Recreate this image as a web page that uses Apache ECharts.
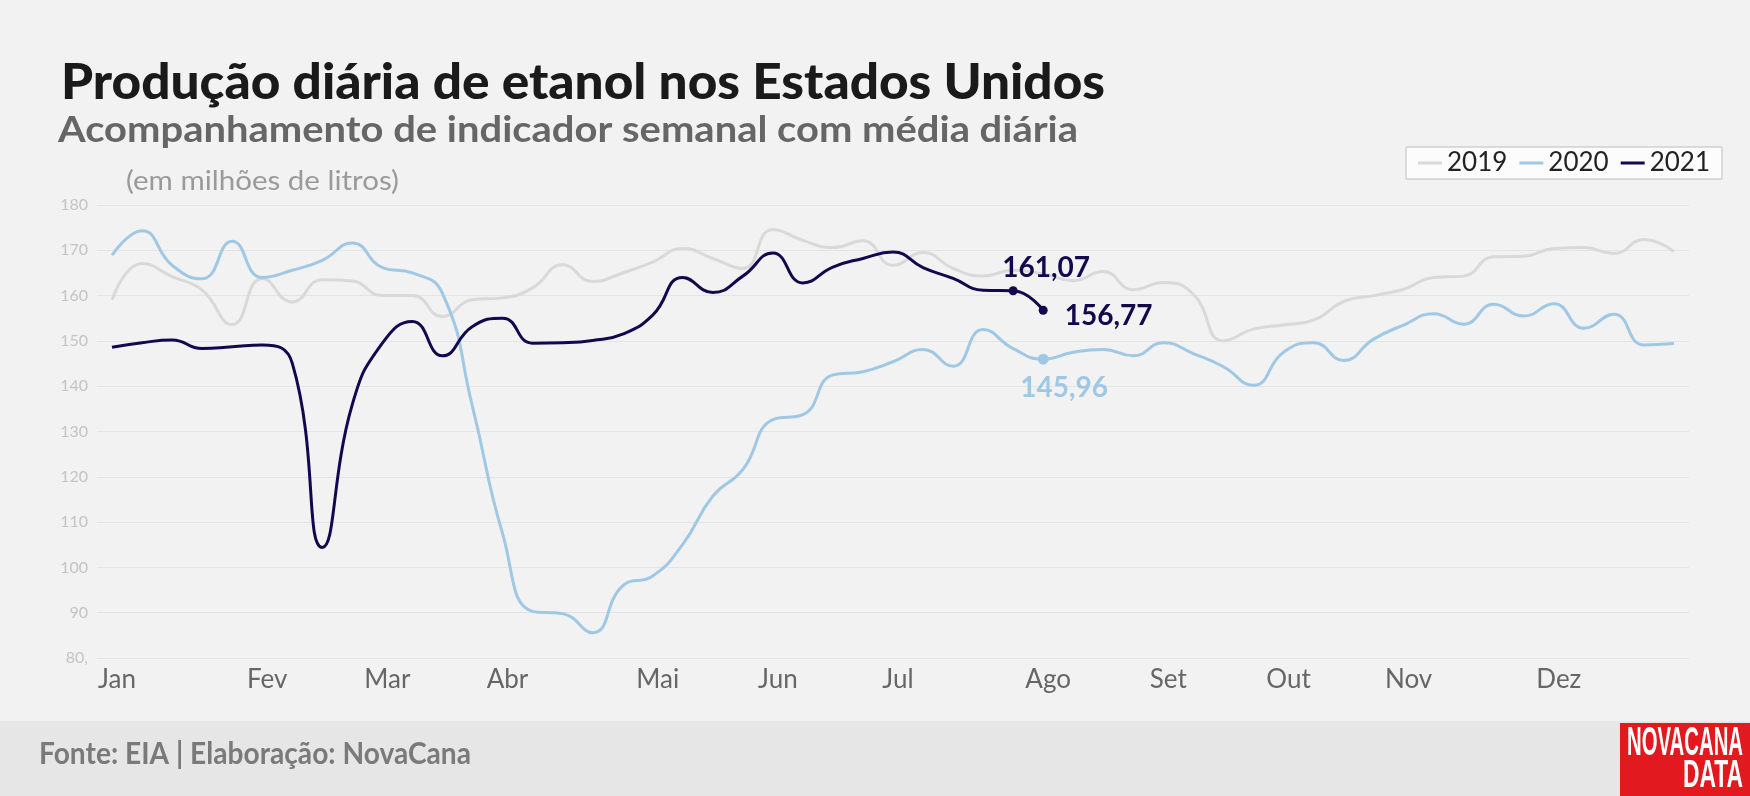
<!DOCTYPE html>
<html>
<head>
<meta charset="utf-8">
<title>Produção diária de etanol nos Estados Unidos</title>
<script src="https://cdn.jsdelivr.net/npm/echarts@6/dist/echarts.min.js"></script>
<style>
  html, body { margin: 0; padding: 0; background: #f2f2f2; }
  #chart { width: 1750px; height: 796px; }
</style>
</head>
<body>
<div id="chart"></div>
<script>
// semanas do ano (53 leituras semanais)
var weeks = ['1','2','3','4','5','6','7','8','9','10','11','12','13','14','15','16','17','18',
  '19','20','21','22','23','24','25','26','27','28','29','30','31','32','33','34','35','36',
  '37','38','39','40','41','42','43','44','45','46','47','48','49','50','51','52','53'];
var monthNames = ['Jan','Fev','Mar','Abr','Mai','Jun','Jul','Ago','Set','Out','Nov','Dez'];
var monthWeeks = [0, 5, 9, 13, 18, 22, 26, 31, 35, 39, 43, 48];

// média diária, milhões de litros
var prod2019 = [159.1, 167.1, 164.2, 161.2, 153.6, 163.8, 158.6, 163.5, 163.2, 160.0,
  160.0, 155.4, 159.1, 159.5, 161.7, 166.8, 163.1, 165.0, 167.4, 170.4,
  168.2, 166.0, 174.6, 172.2, 170.6, 172.1, 166.7, 169.5, 166.0, 164.3,
  165.6, 164.8, 163.3, 165.3, 161.3, 162.9, 160.3, 150.0, 152.6, 153.5,
  154.6, 158.7, 160.0, 161.4, 164.0, 164.3, 168.6, 168.7, 170.4, 170.6,
  169.3, 172.4, 169.7];
var prod2020 = [168.9, 174.3, 166.7, 163.7, 172.0, 164.0, 165.6, 167.8, 171.6, 166.2,
  165.0, 160.5, 135.5, 107.5, 90.3, 89.8, 85.6, 95.9, 98.1, 105.1,
  115.7, 121.6, 132.6, 133.7, 142.5, 143.2, 145.4, 148.1, 144.4, 152.5,
  148.3, 145.96, 147.5, 148.1, 146.7, 149.6, 147.2, 144.3, 140.2, 147.5,
  149.6, 145.7, 150.4, 153.5, 156.0, 153.7, 158.1, 155.5, 158.2, 152.8,
  155.9, 149.1, 149.4];
var prod2021 = [148.6, 149.6, 150.2, 148.3, 148.7, 149.1, 145.1, 104.4, 136.0, 149.5,
  154.3, 146.7, 153.2, 155.0, 149.5, 149.6, 150.1, 151.5, 155.7, 164.0,
  160.7, 164.3, 169.4, 162.8, 166.3, 168.2, 169.6, 166.2, 163.8, 161.2,
  161.07, 156.77];

var colors = { y2019: '#d9d9d9', y2020: '#9fc8e5', y2021: '#13084d' };
var FONT = 'Lato';

function fmtNum(v) {
  return v.toFixed(2).replace('.', ',');
}

// fator horizontal para o texto ocupar a largura desejada
var measureCtx = document.createElement('canvas').getContext('2d');
function fitScale(text, font, width) {
  measureCtx.font = font;
  return width / measureCtx.measureText(text).width;
}

// marca pontos com destaque (bolinha + rótulo)
function withMarks(values, marks, color) {
  return values.map(function (v, i) {
    var m = marks[i];
    if (!m) return v;
    return {
      value: v,
      symbol: 'circle',
      symbolSize: m.size,
      itemStyle: { color: color },
      label: {
        show: true,
        position: m.position,
        distance: m.distance,
        offset: m.offset,
        formatter: function (p) { return fmtNum(p.value); },
        color: color,
        fontFamily: FONT,
        fontWeight: 'bold',
        fontSize: 28
      }
    };
  });
}

var marks2021 = {
  30: { size: 9, position: 'top', distance: 4, offset: [33, 0] },
  31: { size: 9, position: 'right', distance: 17, offset: [0, 6] }
};
var marks2020 = {
  31: { size: 11, position: 'bottom', distance: 6, offset: [21, 3] }
};

// textos soltos: [texto, fonte, cor, x, y, largura, alinhamento]
var texts = [
  ['Produção diária de etanol nos Estados Unidos', '900 49px Lato', '#1a1a1a', 61, 59, 1044, 'left'],
  ['Acompanhamento de indicador semanal com média diária', 'bold 36px Lato', '#666666', 58, 112, 1020, 'left'],
  ['(em milhões de litros)', '26px Lato', '#9a9a9a', 126, 169, 273, 'left'],
  ['Fonte: EIA | Elaboração: NovaCana', 'bold 30px Lato', '#7a7a7a', 39, 739, 432, 'left'],
  ['NOVACANA', 'bold 40px "Liberation Sans"', '#ffffff', 1743, 724, 116, 'right'],
  ['DATA', 'bold 39px "Liberation Sans"', '#ffffff', 1743, 757, 60, 'right']
];

var graphics = [
  {
    type: 'rect', x: 0, y: 721, z: 0,
    shape: { width: 1750, height: 75 },
    style: { fill: '#e6e6e6' }
  },
  {
    type: 'rect', x: 1620, y: 723,
    shape: { width: 130, height: 73 },
    style: { fill: '#e2191f' }
  }
];
texts.forEach(function (t) {
  graphics.push({
    type: 'text', x: t[3], y: t[4], z: 10,
    scaleX: fitScale(t[0], t[1], t[5]),
    style: {
      text: t[0], font: t[1], fill: t[2],
      textAlign: t[6], align: t[6],
      textVerticalAlign: 'top', verticalAlign: 'top'
    }
  });
});

var chart = echarts.init(document.getElementById('chart'));

var option = {
  backgroundColor: '#f2f2f2',
  animation: false,
  legend: {
    data: ['2019', '2020', '2021'],
    right: 28, top: 147,
    icon: 'rect',
    itemWidth: 24, itemHeight: 3, itemGap: 12,
    padding: [3, 12],
    backgroundColor: '#fcfcfc',
    borderColor: '#bdbdbd', borderWidth: 1,
    textStyle: { fontFamily: FONT, fontSize: 26, color: '#222222' }
  },
  grid: { left: 97, right: 61, top: 205, bottom: 138, containLabel: false },
  xAxis: {
    type: 'category',
    data: weeks,
    boundaryGap: true,
    axisLine: { show: false },
    axisTick: { show: false },
    splitLine: { show: false },
    axisLabel: {
      interval: function (i) { return monthWeeks.indexOf(i) >= 0; },
      formatter: function (val, i) { return monthNames[monthWeeks.indexOf(i)]; },
      fontFamily: FONT, fontSize: 26, color: '#666666',
      margin: 9,
      padding: [0, 0, 0, 10]
    }
  },
  yAxis: {
    type: 'value',
    min: 80, max: 180, interval: 10,
    axisLine: { show: false },
    axisTick: { show: false },
    splitLine: { lineStyle: { color: '#e4e4e4', width: 1 } },
    axisLabel: {
      fontFamily: FONT, fontSize: 16, color: '#c4c4c4', margin: 9,
      formatter: function (v) { return v === 80 ? '80,' : String(v); }
    }
  },
  series: [
    {
      name: '2019', type: 'line', smooth: 0.5,
      symbol: 'none', showSymbol: false,
      lineStyle: { color: colors.y2019, width: 3 },
      itemStyle: { color: colors.y2019 },
      emphasis: { disabled: true },
      data: prod2019, z: 2
    },
    {
      name: '2020', type: 'line', smooth: 0.5,
      symbol: 'none', showSymbol: true, showAllSymbol: true,
      lineStyle: { color: colors.y2020, width: 3 },
      itemStyle: { color: colors.y2020 },
      emphasis: { disabled: true },
      data: withMarks(prod2020, marks2020, colors.y2020), z: 3
    },
    {
      name: '2021', type: 'line', smooth: 0.5,
      symbol: 'none', showSymbol: true, showAllSymbol: true,
      lineStyle: { color: colors.y2021, width: 3 },
      itemStyle: { color: colors.y2021 },
      emphasis: { disabled: true },
      data: withMarks(prod2021, marks2021, colors.y2021), z: 4
    }
  ],
  graphic: graphics
};

chart.setOption(option);
</script>
</body>
</html>
